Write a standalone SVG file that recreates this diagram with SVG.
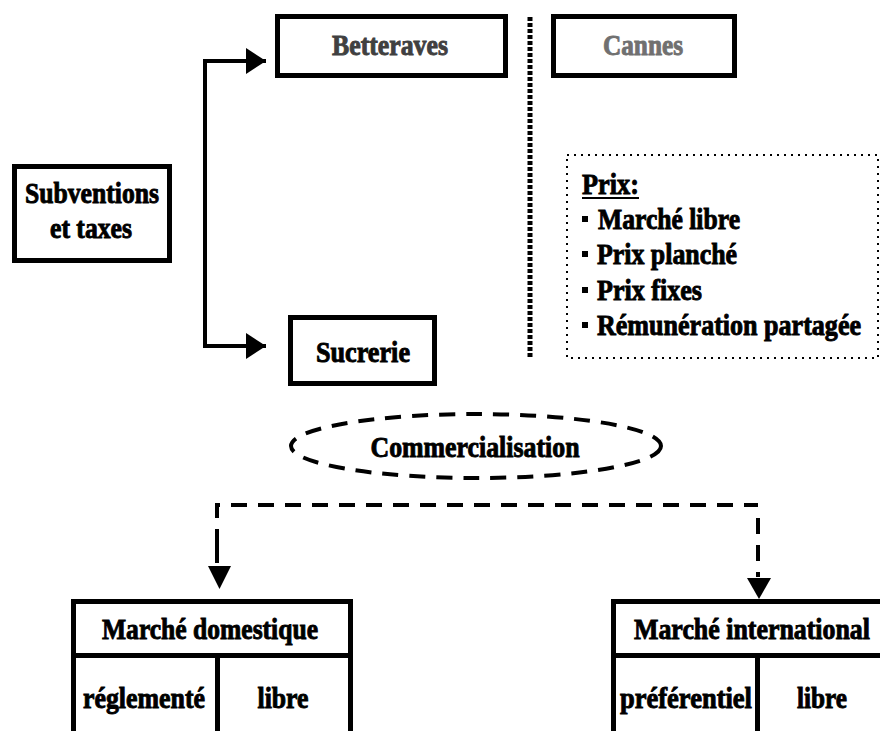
<svg xmlns="http://www.w3.org/2000/svg" width="880" height="731" viewBox="0 0 880 731">
  <style>
    .lbl { font-family: "Liberation Serif", "Times New Roman", serif; font-weight: bold; font-size: 29px; fill: #000; stroke: #000; stroke-width: 0.9px; }
    .box { fill: #fff; stroke: #000; stroke-width: 5; }
    .grid { fill: none; stroke: #000; stroke-width: 5; }
    .link { fill: none; stroke: #000; stroke-width: 4; }
    .dash { fill: none; stroke: #000; stroke-width: 4; stroke-dasharray: 16 11; }
  </style>
  <defs>
    <marker id="arrowSolid" markerUnits="userSpaceOnUse" markerWidth="22" markerHeight="26" viewBox="0 0 22 26" refX="20" refY="13" orient="auto-start-reverse">
      <path d="M0,0 L20,13 L0,26 Z" fill="#000"/>
    </marker>
  </defs>

  <rect width="880" height="731" fill="#fff"/>

  <!-- connectors -->
  <g id="connectors">
    <path class="link" d="M266,61 H205 V346 H266" marker-start="url(#arrowSolid)" marker-end="url(#arrowSolid)"/>
    <path class="dash" d="M217,545 V505 H758"/>
    <path class="dash" d="M758,518 V577" stroke-dasharray="22 12"/>
    <line x1="217" y1="545" x2="217" y2="563" stroke="#000" stroke-width="4"/>
    <path d="M208,566 L231,566 L219.5,589 Z" fill="#000"/>
    <path d="M747,578 L771,578 L759,599 Z" fill="#000"/>
    <!-- dotted divider between beet and cane sides -->
    <line x1="530" y1="17" x2="530" y2="358" stroke="#000" stroke-width="5" stroke-dasharray="4 2"/>
  </g>

  <!-- subsidies and taxes -->
  <g id="subventions">
    <rect class="box" x="14.5" y="166.5" width="155" height="94"/>
    <text class="lbl" x="92" y="203" text-anchor="middle" textLength="134" lengthAdjust="spacingAndGlyphs">Subventions</text>
    <text class="lbl" x="91" y="238" text-anchor="middle" textLength="82" lengthAdjust="spacingAndGlyphs">et taxes</text>
  </g>

  <!-- beet supply -->
  <g id="betteraves">
    <rect class="box" x="277.5" y="16.5" width="228" height="59" stroke="#404040"/>
    <text class="lbl" x="390" y="55" text-anchor="middle" textLength="116" lengthAdjust="spacingAndGlyphs" style="fill:#404040;stroke:#404040">Betteraves</text>
  </g>

  <!-- cane supply -->
  <g id="cannes">
    <rect class="box" x="553.5" y="16.5" width="181" height="59" stroke="#808080"/>
    <text class="lbl" x="643" y="55" text-anchor="middle" textLength="80" lengthAdjust="spacingAndGlyphs" style="fill:#707070;stroke:#707070">Cannes</text>
  </g>

  <!-- sugar mill -->
  <g id="sucrerie">
    <rect class="box" x="290.5" y="317.5" width="144" height="66"/>
    <text class="lbl" x="363" y="362" text-anchor="middle" textLength="94" lengthAdjust="spacingAndGlyphs">Sucrerie</text>
  </g>

  <!-- pricing schemes -->
  <g id="prix">
    <rect x="567" y="155" width="311" height="203" fill="none" stroke="#000" stroke-width="2" stroke-dasharray="2 5"/>
    <text class="lbl" x="582" y="194" textLength="57" lengthAdjust="spacingAndGlyphs">Prix:</text>
    <line x1="582" y1="198" x2="639" y2="198" stroke="#000" stroke-width="2"/>
    <rect x="582" y="216" width="6" height="6" fill="#000"/>
    <text class="lbl" x="598" y="229" textLength="142" lengthAdjust="spacingAndGlyphs">Marché libre</text>
    <rect x="582" y="251" width="6" height="6" fill="#000"/>
    <text class="lbl" x="597" y="264" textLength="140" lengthAdjust="spacingAndGlyphs">Prix planché</text>
    <rect x="582" y="287" width="6" height="6" fill="#000"/>
    <text class="lbl" x="597" y="300" textLength="105" lengthAdjust="spacingAndGlyphs">Prix fixes</text>
    <rect x="582" y="322" width="6" height="6" fill="#000"/>
    <text class="lbl" x="597" y="335" textLength="264" lengthAdjust="spacingAndGlyphs">Rémunération partagée</text>
  </g>

  <!-- marketing -->
  <g id="commercialisation">
    <ellipse cx="476" cy="446" rx="185" ry="32" class="dash" stroke-dasharray="16 12"/>
    <text class="lbl" x="475" y="457" text-anchor="middle" textLength="209" lengthAdjust="spacingAndGlyphs">Commercialisation</text>
  </g>

  <!-- domestic market -->
  <g id="marche-domestique">
    <path class="grid" d="M73.5,731 V601.5 H350.5 V731 M73.5,655.5 H350.5 M217.5,655.5 V731"/>
    <text class="lbl" x="210" y="639" text-anchor="middle" textLength="216" lengthAdjust="spacingAndGlyphs">Marché domestique</text>
    <text class="lbl" x="144" y="708" text-anchor="middle" textLength="122" lengthAdjust="spacingAndGlyphs">réglementé</text>
    <text class="lbl" x="283" y="708" text-anchor="middle" textLength="51" lengthAdjust="spacingAndGlyphs">libre</text>
  </g>

  <!-- international market -->
  <g id="marche-international">
    <path class="grid" d="M613.5,731 V601.5 H880 M613.5,655.5 H880 M757.5,655.5 V731"/>
    <text class="lbl" x="752" y="639" text-anchor="middle" textLength="236" lengthAdjust="spacingAndGlyphs">Marché international</text>
    <text class="lbl" x="686" y="708" text-anchor="middle" textLength="132" lengthAdjust="spacingAndGlyphs">préférentiel</text>
    <text class="lbl" x="822" y="708" text-anchor="middle" textLength="50" lengthAdjust="spacingAndGlyphs">libre</text>
  </g>
</svg>
